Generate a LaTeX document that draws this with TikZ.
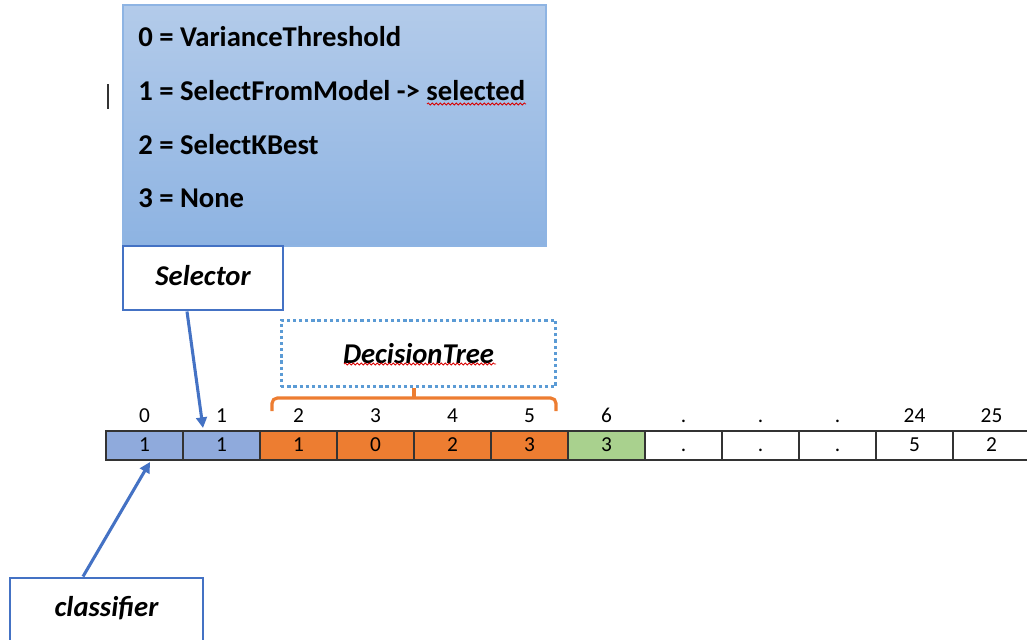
\documentclass[tikz,border=0pt]{standalone}
\usepackage{fontspec}
\setmainfont{Carlito}
\usetikzlibrary{calc,decorations.pathmorphing,arrows.meta}
\definecolor{cellblue}{HTML}{8FAADC}
\definecolor{cellorange}{HTML}{ED7D31}
\definecolor{cellgreen}{HTML}{A9D18E}
\definecolor{boxblue}{HTML}{4472C4}
\definecolor{dotblue}{HTML}{5B9BD5}
\definecolor{legtop}{HTML}{B3CBEA}
\definecolor{legbot}{HTML}{8DB3E2}
\definecolor{legedge}{HTML}{8EB4E3}
\tikzset{
  cellbox/.style={draw=black!80, line width=0.9pt, minimum width=57.75pt, minimum height=21.75pt, inner sep=0pt, text height=11pt, text depth=2pt, font=\fontsize{16}{19}\selectfont},
  idxlabel/.style={inner sep=0pt, text height=11pt, text depth=2pt, font=\fontsize{16}{19}\selectfont},
  legline/.style={anchor=west, inner sep=0pt, font=\fontsize{21.5}{25}\selectfont\bfseries},
  namebox/.style={draw=boxblue, line width=2.2pt, fill=white, inner sep=0pt, font=\fontsize{21.5}{25}\selectfont\bfseries\itshape},
  arr/.style={draw=boxblue, line width=2.3pt, -{Triangle[length=8pt,width=8pt]}},
  squig/.style={draw=red!85!black, line width=0.6pt, decorate, decoration={snake, segment length=3pt, amplitude=0.8pt}}
}
\begin{document}
\begin{tikzpicture}[x=0.75pt,y=-0.75pt]
\useasboundingbox (0,0) rectangle (1027,639);
% legend box
\node[draw=legedge, line width=0.9pt, top color=legtop, bottom color=legbot, minimum width=317.25pt, minimum height=180.75pt, inner sep=0pt] (legend) at (334.5,125.5) {};
\node[legline] (l0) at (138,37) {0 = VarianceThreshold};
\node[legline] (l1) at (138,91) {1 = SelectFromModel -> selected};
\node[legline] (l2) at (138,145) {2 = SelectKBest};
\node[legline] (l3) at (138,198) {3 = None};
\draw[squig] (427,104) -- (526,104);
% cursor mark
\coordinate (cur1) at (108,84);
\coordinate (cur2) at (108,109);
\draw[line width=0.9pt, black!80] (cur1) -- (cur2);
% selector
\node[namebox, minimum width=120pt, minimum height=48pt, text height=15pt, text depth=4pt] (sel) at (203,278) {Selector};
% decision tree dotted box
\node[draw=dotblue, line width=2.4pt, dash pattern=on 2.4pt off 2.2pt, minimum width=206pt, minimum height=50pt, inner sep=0pt, font=\fontsize{21.5}{25}\selectfont\bfseries\itshape] (dt) at (418.5,353.5) {DecisionTree};
\draw[squig] (344,364) -- (496,364);
% brace
\coordinate (tickbase) at (414,398);
\draw[cellorange, line width=2.4pt, rounded corners=4pt] (272,411) -- (272,398) -- (556,398) -- (556,411);
\draw[cellorange, line width=2.4pt] (tickbase) -- (dt.south -| tickbase);
% cells
\foreach \i/\v/\c/\lab in {0/1/cellblue/0, 1/1/cellblue/1, 2/1/cellorange/2, 3/0/cellorange/3, 4/2/cellorange/4, 5/3/cellorange/5, 6/3/cellgreen/6, 7/./white/., 8/./white/., 9/./white/., 10/5/white/24, 11/2/white/25} {
  \node[cellbox, fill=\c] (c\i) at ({144.5+77*\i},445.5) {\v};
  \node[idxlabel] (i\i) at ({144.5+77*\i},416) {\lab};
}
% classifier
\node[namebox, minimum width=144.75pt, minimum height=60pt, text height=15pt, text depth=17pt] (cls) at (106.5,618) {classifier};
% arrows
\coordinate (selTip) at (203,428);
\coordinate (clsTip) at (150,462);
\draw[arr] ($(sel.south)+(-16,0)$) -- (selTip);
\draw[arr] ($(cls.north)+(-23.5,0)$) -- (clsTip);
\end{tikzpicture}
\end{document}
